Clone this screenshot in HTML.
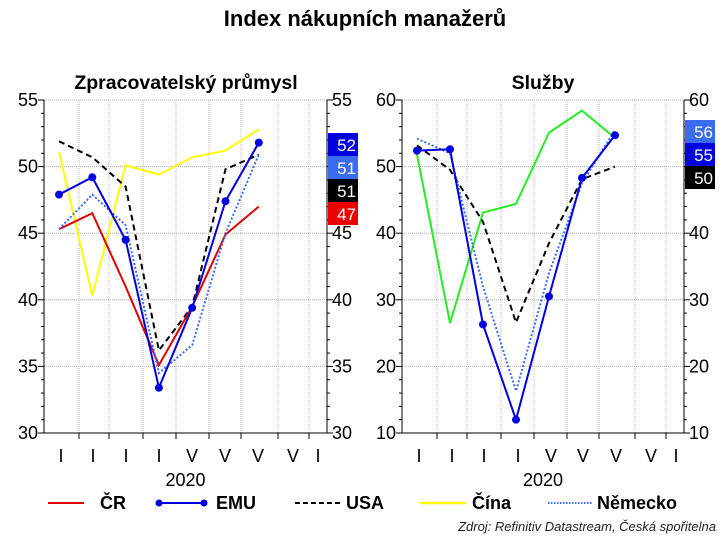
<!DOCTYPE html>
<html><head><meta charset="utf-8"><style>
body{margin:0;background:#fff;}
svg{display:block;font-family:"Liberation Sans",Arial,sans-serif;}
</style></head><body>
<svg id="c" width="727" height="542" viewBox="0 0 727 542">
<text x="365" y="26" text-anchor="middle" font-size="22" font-weight="bold">Index nákupních manažerů</text>
<text x="186" y="89" text-anchor="middle" font-size="19.5" font-weight="bold">Zpracovatelský průmysl</text>
<text x="543" y="89" text-anchor="middle" font-size="19.5" font-weight="bold">Služby</text>
<g id="left"></g>
<g id="right"></g>
<g font-size="18" font-weight="bold">
<g><line x1="48" y1="503" x2="84" y2="503" stroke="#e00000" stroke-width="2"/><text x="100" y="509">ČR</text></g>
<g><line x1="158" y1="503" x2="205" y2="503" stroke="#0000e0" stroke-width="2"/><circle cx="159" cy="503" r="3.5" fill="#0000e0"/><circle cx="204" cy="503" r="3.5" fill="#0000e0"/><text x="216" y="509">EMU</text></g>
<g><line x1="295" y1="503" x2="340" y2="503" stroke="#000" stroke-width="2" stroke-dasharray="5,3"/><text x="346" y="509">USA</text></g>
<g><line x1="420" y1="503" x2="466" y2="503" stroke="#ffff00" stroke-width="2.5"/><text x="472" y="509">Čína</text></g>
<g><line x1="548" y1="503" x2="592" y2="503" stroke="#3a6cf0" stroke-width="2" stroke-dasharray="1.5,1.5"/><text x="597" y="509">Německo</text></g>
</g>
<text x="716" y="531" text-anchor="end" font-size="13" font-style="italic" fill="#222">Zdroj: Refinitiv Datastream, Česká spořitelna</text>
</svg>
<script>
const catLabels = ["I","I","I","I","V","V","V","V","I"];
const mfgCR = [45.3,46.5,41.0,35.1,39.5,44.9,47.0];
const mfgEMU = [47.9,49.2,44.5,33.4,39.4,47.4,51.8];
const mfgUSA = [51.9,50.7,48.5,36.2,39.5,49.8,50.9];
const mfgChina = [51.1,40.3,50.1,49.4,50.7,51.2,52.8];
const mfgGermany = [45.3,47.9,45.6,34.5,36.6,45.0,50.9];
const mfgTicks = [30,35,40,45,50,55];
const mfgTags = [["52","#0000e0"],["51","#3a6cf0"],["51","#000"],["47","#ee0000"]];
const svcEMU = [52.4,52.6,26.3,12.0,30.5,48.3,54.7];
const svcUSA = [53.2,49.5,41.7,26.6,38.5,48.1,50.0];
const svcChina = [51.8,26.5,43.1,44.4,55.1,58.4,54.3];
const svcGermany = [54.2,52.0,32.0,16.3,34.0,47.5,55.5];
const svcTicks = [10,20,30,40,50,60];
const svcTags = [["56","#3a6cf0"],["55","#0000e0"],["50","#000"]];

const NS="http://www.w3.org/2000/svg";
function mk(p,t,a){const e=document.createElementNS(NS,t);for(const k in a)e.setAttribute(k,a[k]);p.appendChild(e);return e;}

function panel(g,cfg){
  const {x0,x1,y0,y1,min,max,ticks,pts,grid,labX,series,tags,tagX,tagY}=cfg;
  const ys=v=>y1-(v-min)/(max-min)*(y1-y0);
  const xs=i=>pts[0]+i*(pts[1]-pts[0]);
  ticks.forEach(t=>{const l=mk(g,'line',{x1:x0,x2:x1,y1:ys(t),y2:ys(t),stroke:'#aaa','stroke-dasharray':'1,1'});
    });
  grid.forEach(x=>{const l=mk(g,'line',{x1:x,x2:x,y1:y0,y2:y1,stroke:'#bbb','stroke-dasharray':'1,1'});
    });
  const ax=mk(g,'path',{d:`M${x0},${y0}V${y1}H${x1}V${y0}`,fill:'none',stroke:'#000','stroke-width':1});
  
  const step=(max-min)/25;
  for(let v=min;v<=max+1e-9;v+=step){const y=ys(v);const major=ticks.some(t=>Math.abs(t-v)<1e-6);
    const len=major?6:3;
    mk(g,'line',{x1:x0-len,x2:x0,y1:y,y2:y,stroke:'#000'});
    mk(g,'line',{x1:x1,x2:x1+len,y1:y,y2:y,stroke:'#000'});}
  ticks.forEach(t=>{
    const a=mk(g,'text',{x:x0-6,y:ys(t)+6,'text-anchor':'end','font-size':18});a.textContent=t;
    
    const b=mk(g,'text',{x:x1+5,y:ys(t)+6,'font-size':18});b.textContent=t;
    });
  grid.forEach(x=>mk(g,'line',{x1:x,x2:x,y1:y1,y2:y1+6,stroke:'#000'}));
  catLabels.forEach((c,i)=>{const t=mk(g,'text',{x:labX[i],y:462,'text-anchor':'middle','font-size':18});t.textContent=c;
    });
  const yr=mk(g,'text',{x:(x0+x1)/2,y:486,'text-anchor':'middle','font-size':18});yr.textContent='2020';
  
  series.forEach(s=>{
    const d=s.vals.map((v,i)=>(i?'L':'M')+xs(i)+','+ys(v)).join('');
    const p=mk(g,'path',{d,fill:'none',stroke:s.c,'stroke-width':s.w||2,'stroke-dasharray':s.dash||'none'});
    
    if(s.dots) s.vals.forEach((v,i)=>{if(s.dots.includes(i)){const c=mk(g,'circle',{cx:xs(i),cy:ys(v),r:4,fill:s.c});
      }});
  });
  tags.forEach((t,i)=>{const y=tagY+i*23;
    const r=mk(g,'rect',{x:tagX,y:y,width:30,height:23,fill:t[1]});
    
    const tx=mk(g,'text',{x:tagX+28,y:y+18,'text-anchor':'end','font-size':17,fill:'#fff'});tx.textContent=t[0];
    });
}
panel(document.getElementById('left'),{x0:44,x1:327,y0:100,y1:433,min:30,max:55,ticks:mfgTicks,
  pts:[59,92.3],grid:[79,109,143,176,209,241,278,309],labX:[61,93,126,159,192,225,258,293,318],
  series:[{vals:mfgChina,c:'#ffff00',name:'line-cina'},{vals:mfgUSA,c:'#000',dash:'6,4',name:'line-usa'},
    {vals:mfgCR,c:'#e00000',name:'line-cr'},{vals:mfgGermany,c:'#3a6cf0',dash:'2,2',name:'line-nemecko'},
    {vals:mfgEMU,c:'#0000e0',name:'line-emu',dots:[0,1,2,3,4,5,6]}],
  tags:mfgTags,tagX:328,tagY:133});
panel(document.getElementById('right'),{x0:402,x1:684,y0:100,y1:433,min:10,max:60,ticks:svcTicks,
  pts:[417,450],grid:[437,467,501,534,567,599,635,666],labX:[419,452,484,518,551,583,616,651,676],
  series:[{vals:svcChina,c:'#22ee22',name:'line-cina'},{vals:svcUSA,c:'#000',dash:'6,4',name:'line-usa'},
    {vals:svcGermany,c:'#3a6cf0',dash:'2,2',name:'line-nemecko'},
    {vals:svcEMU,c:'#0000e0',name:'line-emu',dots:[0,1,2,3,4,5,6]}],
  tags:svcTags,tagX:685,tagY:120});
</script>
</body></html>
